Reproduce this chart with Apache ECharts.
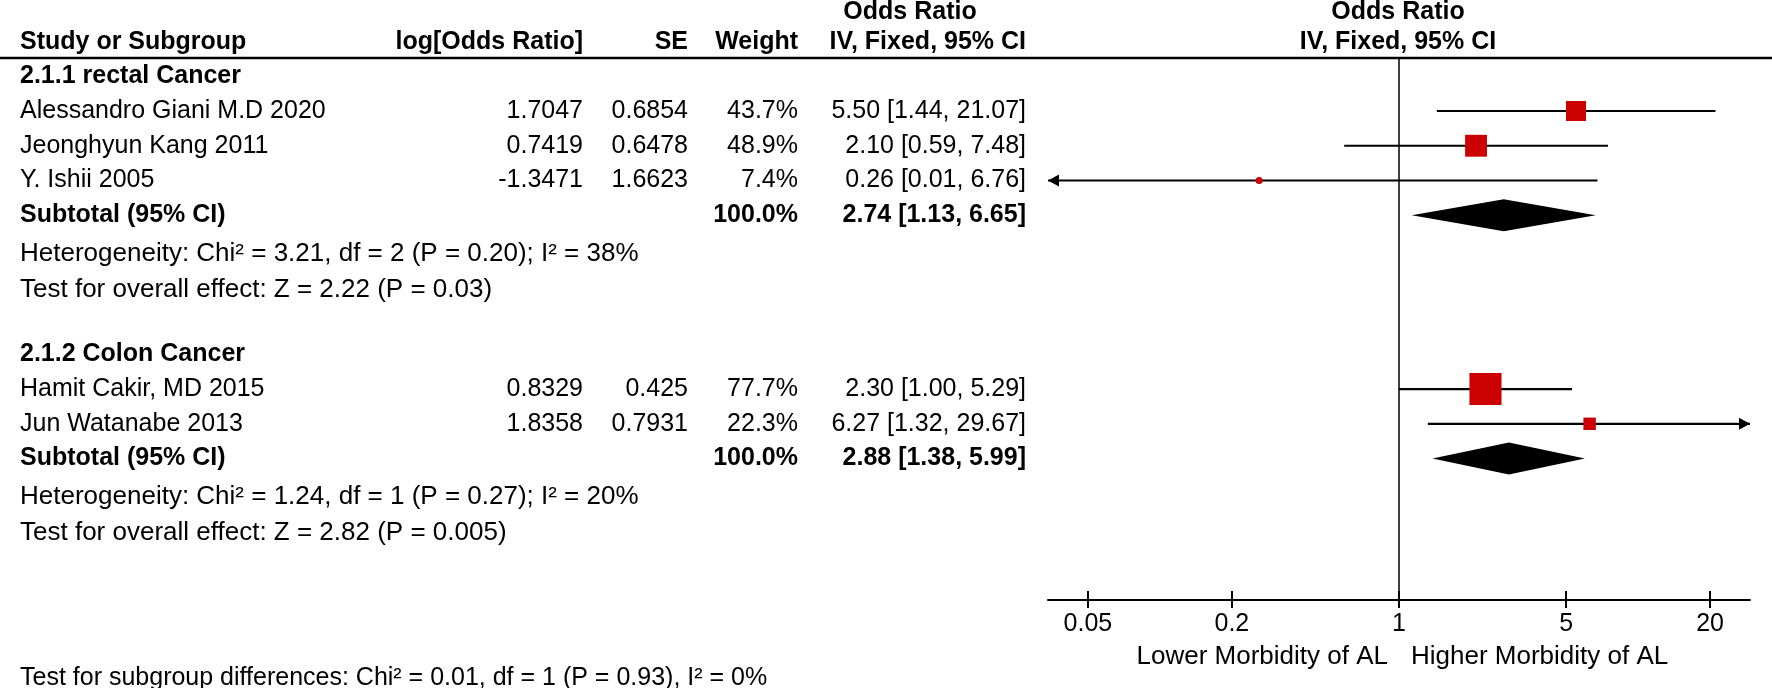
<!DOCTYPE html>
<html>
<head>
<meta charset="utf-8">
<script src="https://cdn.jsdelivr.net/npm/echarts@6/dist/echarts.min.js"></script>
<style>
html, body { margin: 0; padding: 0; background: #fff; }
#chart { width: 1772px; height: 688px; }
</style>
</head>
<body>
<div id="chart"></div>
<script>
// individual studies
const studyNames = ['Alessandro Giani M.D 2020', 'Jeonghyun Kang 2011', 'Y. Ishii 2005', 'Hamit Cakir, MD 2015', 'Jun Watanabe 2013'];
const studyRows = [1, 2, 3, 9, 10];
const logOR = [1.7047, 0.7419, -1.3471, 0.8329, 1.8358];
const seVals = [0.6854, 0.6478, 1.6623, 0.425, 0.7931];
const weights = [43.7, 48.9, 7.4, 77.7, 22.3];
const orVals = [5.50, 2.10, 0.26, 2.30, 6.27];
const ciLow = [1.44, 0.59, 0.01, 1.00, 1.32];
const ciHigh = [21.07, 7.48, 6.76, 5.29, 29.67];

// subgroups
const groupNames = ['2.1.1 rectal Cancer', '2.1.2 Colon Cancer'];
const groupRows = [0, 8];
const subRows = [4, 11];
const subWeight = [100.0, 100.0];
const subOR = [2.74, 2.88];
const subLow = [1.13, 1.38];
const subHigh = [6.65, 5.99];
const heteroText = ['Heterogeneity: Chi² = 3.21, df = 2 (P = 0.20); I² = 38%', 'Heterogeneity: Chi² = 1.24, df = 1 (P = 0.27); I² = 20%'];
const heteroRows = [5.1, 12.1];
const overallText = ['Test for overall effect: Z = 2.22 (P = 0.03)', 'Test for overall effect: Z = 2.82 (P = 0.005)'];
const overallRows = [6.15, 13.15];
const subgroupTest = 'Test for subgroup differences: Chi² = 0.01, df = 1 (P = 0.93), I² = 0%';

// axis
const tickValues = [0.05, 0.2, 1, 5, 20];
const tickLabels = ['0.05', '0.2', '1', '5', '20'];

// layout
const FAMILY = '"Liberation Sans", Arial, sans-serif';
const FONT = '25px ' + FAMILY;
const STAT_FONT = '26px ' + FAMILY;
const BOLD = 'bold ' + FONT;
const col = { study: 20, logOR: 583, se: 688, weight: 798, ci: 1026 };
const X_MIN = -1.468, X_MAX = 1.468;
const RED = '#cc0000';

const fmtCI = (o, l, h) => o.toFixed(2) + ' [' + l.toFixed(2) + ', ' + h.toFixed(2) + ']';
const boxSize = w => 4.5 + 0.355 * w;

// table text, one entry per cell
let cells = [];
groupNames.forEach((g, i) => cells.push({ row: groupRows[i], x: col.study, align: 'left', text: g, font: BOLD }));
studyNames.forEach((s, i) => {
    let r = studyRows[i];
    cells.push({ row: r, x: col.study, align: 'left', text: s });
    cells.push({ row: r, x: col.logOR, align: 'right', text: String(logOR[i]) });
    cells.push({ row: r, x: col.se, align: 'right', text: String(seVals[i]) });
    cells.push({ row: r, x: col.weight, align: 'right', text: weights[i].toFixed(1) + '%' });
    cells.push({ row: r, x: col.ci, align: 'right', text: fmtCI(orVals[i], ciLow[i], ciHigh[i]) });
});
subRows.forEach((r, i) => {
    cells.push({ row: r, x: col.study, align: 'left', text: 'Subtotal (95% CI)', font: BOLD });
    cells.push({ row: r, x: col.weight, align: 'right', text: subWeight[i].toFixed(1) + '%', font: BOLD });
    cells.push({ row: r, x: col.ci, align: 'right', text: fmtCI(subOR[i], subLow[i], subHigh[i]), font: BOLD });
    cells.push({ row: heteroRows[i], x: col.study, align: 'left', text: heteroText[i], font: STAT_FONT });
    cells.push({ row: overallRows[i], x: col.study, align: 'left', text: overallText[i], font: STAT_FONT });
});

const textEl = (text, x, y, align, font) => ({
    type: 'text', x: x, y: y,
    style: { text: text, font: font, fill: '#000', textAlign: align, textVerticalAlign: 'middle' }
});

let chart = echarts.init(document.getElementById('chart'));

const axisBase = {
    type: 'value',
    min: X_MIN,
    max: X_MAX,
    position: 'bottom',
    splitLine: { show: false },
}

chart.setOption({
    animation: false,
    backgroundColor: '#fff',
    grid: { left: 1048, top: 58, width: 702, height: 542, outerBoundsMode: 'none', containLabel: false },
    xAxis: [{
        ...axisBase,
        axisLine: { show: true, onZero: false, lineStyle: { color: '#000', width: 2 } },
        axisTick: { show: true, length: 8, customValues: tickValues.map(Math.log10), lineStyle: { color: '#000', width: 2 } },
        axisLabel: {
            show: true,
            customValues: tickValues.map(Math.log10),
            margin: 12,
            color: '#000',
            fontSize: 25,
            fontFamily: FAMILY,
            formatter: v => {
                let i = tickValues.findIndex(t => Math.abs(Math.log10(t) - v) < 1e-6)
                return i >= 0 ? tickLabels[i] : ''
            }
        },
    }, {
        ...axisBase,
        axisLine: { show: false, onZero: false },
        axisTick: { show: true, inside: true, length: 9, customValues: tickValues.map(Math.log10), lineStyle: { color: '#000', width: 2 } },
        axisLabel: { show: false },
    }],
    yAxis: {
        type: 'value',
        inverse: true,
        min: -0.525,
        max: 15.07,
        axisLine: { show: true, onZero: true, lineStyle: { color: '#000', width: 1.5 } },
        axisTick: { show: false },
        axisLabel: { show: false },
        splitLine: { show: false },
    },
    graphic: [
        textEl('Odds Ratio', 910, 12, 'center', BOLD),
        textEl('Odds Ratio', 1398, 12, 'center', BOLD),
        textEl('Study or Subgroup', col.study, 42, 'left', BOLD),
        textEl('log[Odds Ratio]', col.logOR, 42, 'right', BOLD),
        textEl('SE', col.se, 42, 'right', BOLD),
        textEl('Weight', col.weight, 42, 'right', BOLD),
        textEl('IV, Fixed, 95% CI', col.ci, 42, 'right', BOLD),
        textEl('IV, Fixed, 95% CI', 1398, 42, 'center', BOLD),
        { type: 'line', shape: { x1: 0, y1: 58, x2: 1772, y2: 58 }, style: { stroke: '#000', lineWidth: 2.5 } },
        textEl('Lower Morbidity of AL', 1388, 657, 'right', STAT_FONT),
        textEl('Higher Morbidity of AL', 1411, 657, 'left', STAT_FONT),
        textEl(subgroupTest, col.study, 678, 'left', FONT),
    ],
    series: [{
        // table cells
        type: 'custom',
        coordinateSystem: 'cartesian2d',
        clip: false,
        silent: true,
        data: cells.map(c => [0, c.row]),
        renderItem: (params, api) => {
            let c = cells[params.dataIndex]
            let y = api.coord([0, c.row])[1]
            return textEl(c.text, c.x, y, c.align, c.font || FONT)
        }
    }, {
        // study CI lines + weighted boxes
        type: 'custom',
        coordinateSystem: 'cartesian2d',
        clip: false,
        silent: true,
        data: studyRows.map((r, i) => [Math.log10(orVals[i]), r]),
        renderItem: (params, api) => {
            let i = params.dataIndex
            let r = studyRows[i]
            let lo = Math.log10(ciLow[i])
            let hi = Math.log10(ciHigh[i])
            let p = api.coord([Math.log10(orVals[i]), r])
            let x1 = api.coord([Math.max(lo, X_MIN), r])[0]
            let x2 = api.coord([Math.min(hi, X_MAX), r])[0]
            let y = p[1]
            let s = boxSize(weights[i])
            let children = [{
                type: 'line',
                shape: { x1: x1, y1: y, x2: x2, y2: y },
                style: { stroke: '#000', lineWidth: 2.2 }
            }]
            if (lo < X_MIN) {
                children.push({ type: 'polygon', shape: { points: [[x1, y], [x1 + 11, y - 6], [x1 + 11, y + 6]] }, style: { fill: '#000' } })
            }
            if (hi > X_MAX) {
                children.push({ type: 'polygon', shape: { points: [[x2, y], [x2 - 11, y - 6], [x2 - 11, y + 6]] }, style: { fill: '#000' } })
            }
            children.push({
                type: 'rect',
                shape: { x: p[0] - s / 2, y: y - s / 2, width: s, height: s, r: s < 10 ? s / 2 : 0 },
                style: { fill: RED }
            })
            return { type: 'group', children: children }
        }
    }, {
        // subtotal diamonds
        type: 'custom',
        coordinateSystem: 'cartesian2d',
        clip: false,
        silent: true,
        data: subRows.map((r, i) => [Math.log10(subOR[i]), r]),
        renderItem: (params, api) => {
            let i = params.dataIndex
            let r = subRows[i]
            let c = api.coord([Math.log10(subOR[i]), r])
            let l = api.coord([Math.log10(subLow[i]), r])[0]
            let h = api.coord([Math.log10(subHigh[i]), r])[0]
            let hh = 16
            return {
                type: 'polygon',
                shape: { points: [[l, c[1]], [c[0], c[1] - hh], [h, c[1]], [c[0], c[1] + hh]] },
                style: { fill: '#000' }
            }
        }
    }]
})

window.onresize = function () {
    chart.resize();
}
</script>
</body>
</html>
